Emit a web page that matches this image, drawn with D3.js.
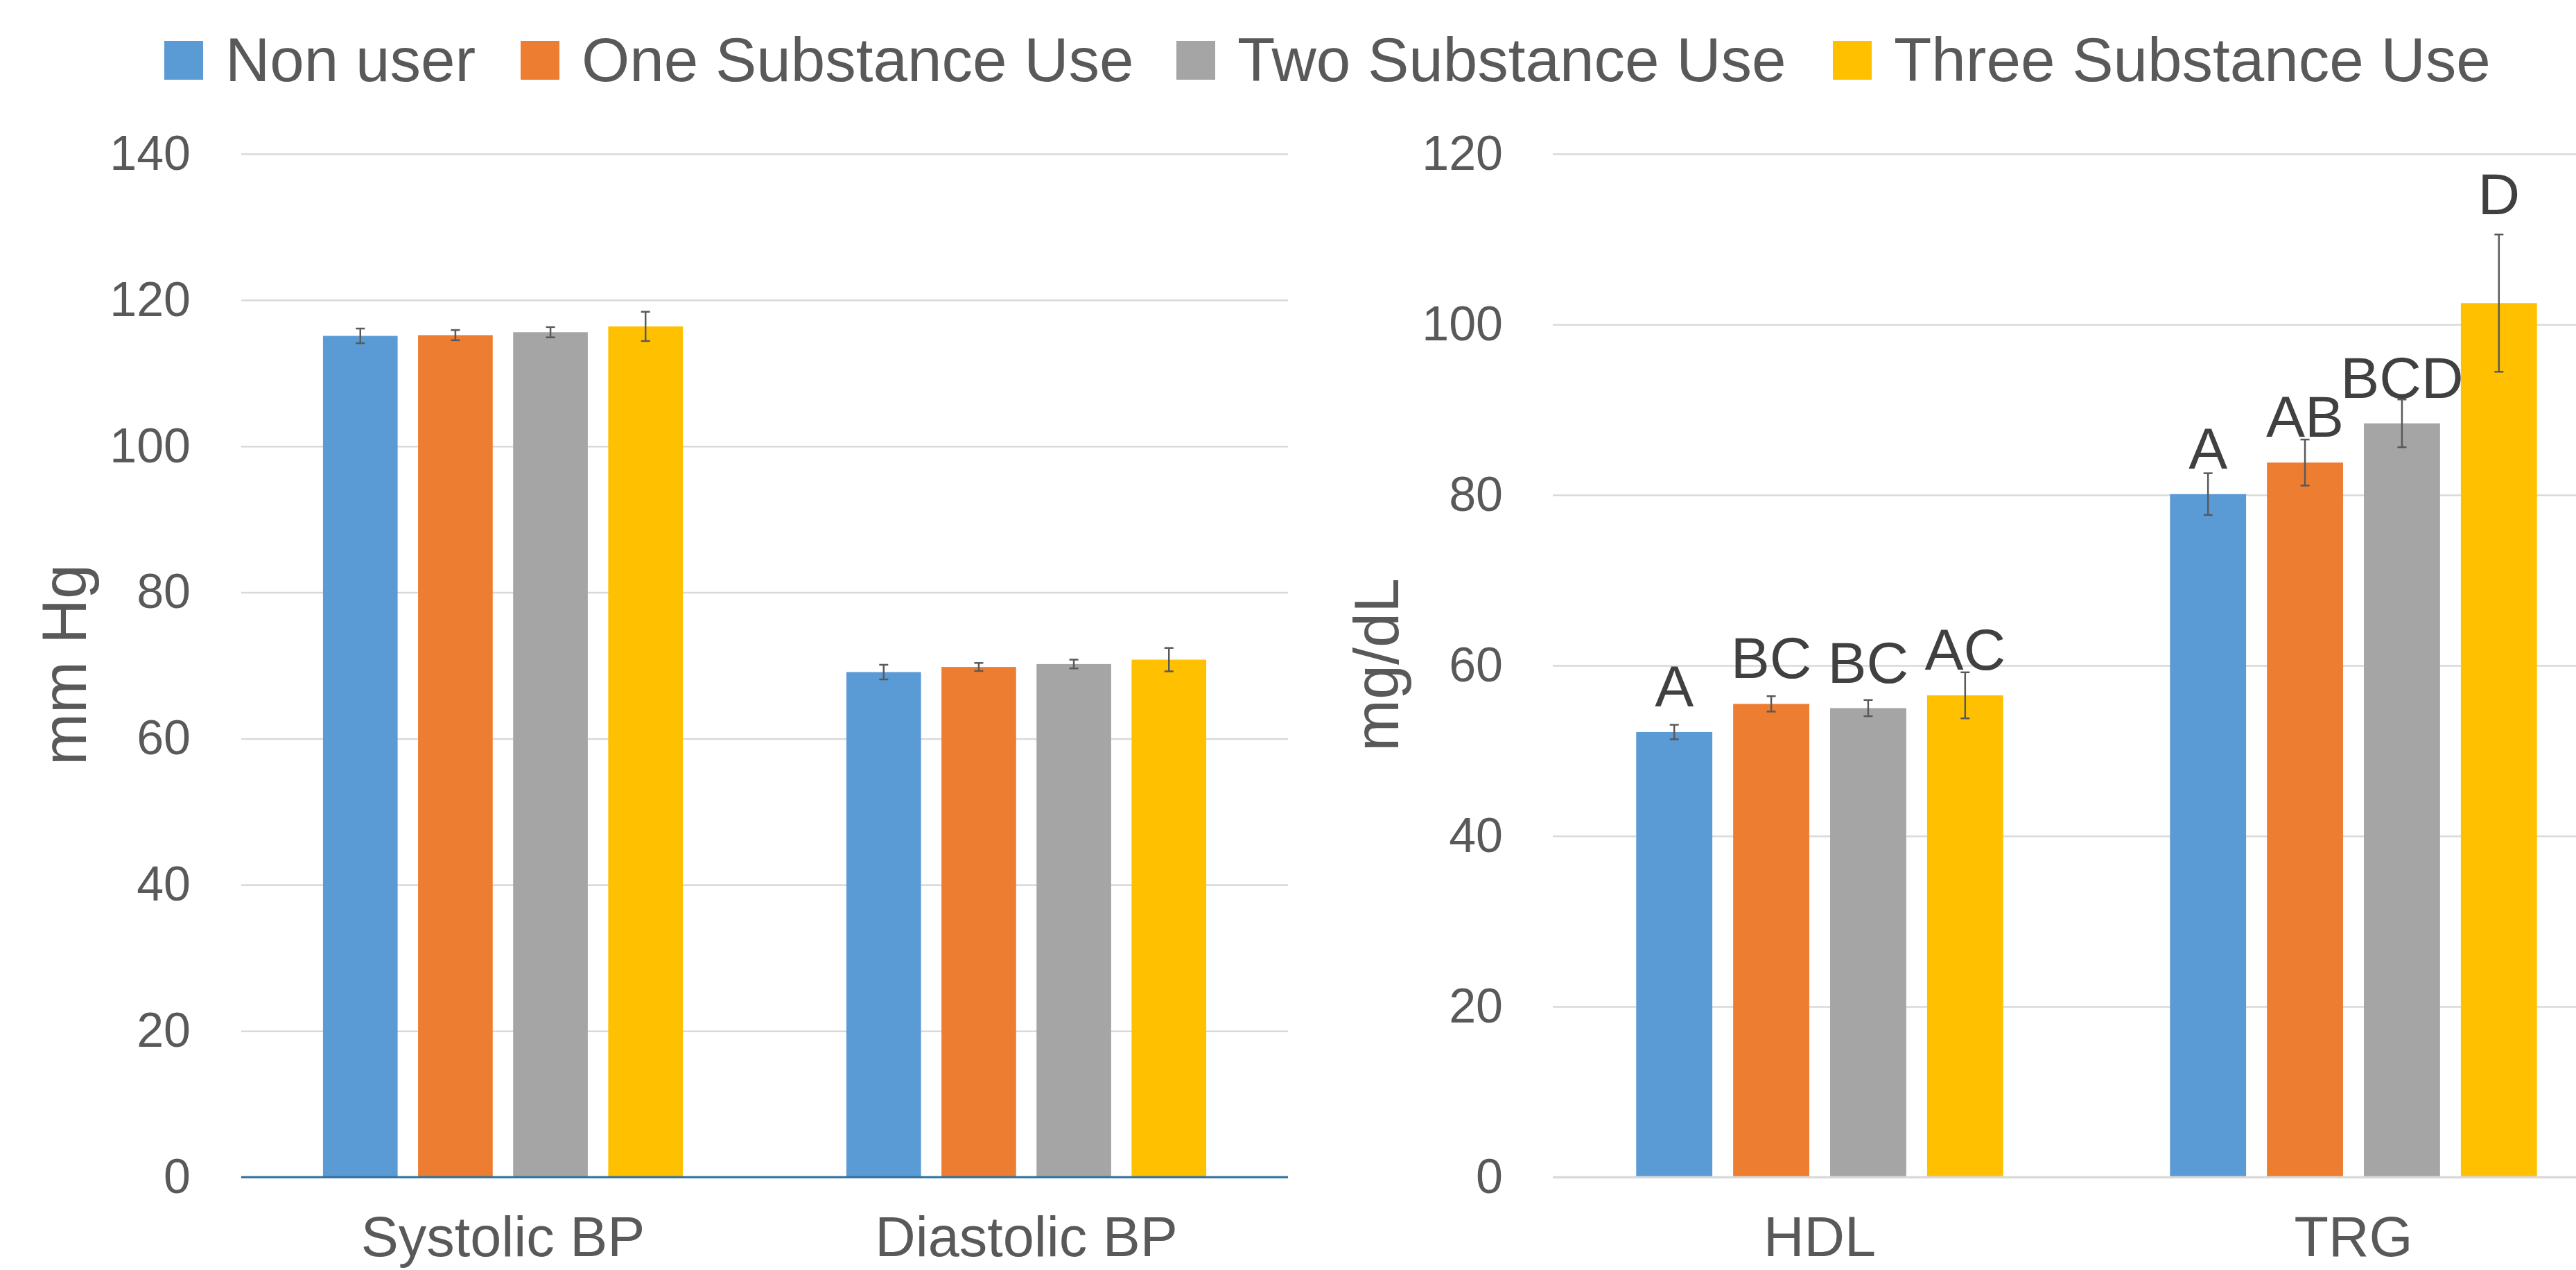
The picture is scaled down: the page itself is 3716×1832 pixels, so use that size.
<!DOCTYPE html>
<html>
<head>
<meta charset="utf-8">
<script src="https://cdn.jsdelivr.net/npm/d3@7"></script>
<style>
  body { margin: 0; background: #fff; }
  svg { display: block; font-family: "Liberation Sans", Arial, sans-serif; }
</style>
</head>
<body>
<div id="chart"></div>
<script>
// Series (legend)
var groups = ['Non user', 'One Substance Use', 'Two Substance Use', 'Three Substance Use'];
var groupColors = ['#5B9BD5', '#ED7D31', '#A5A5A5', '#FFC000'];

// Left panel: blood pressure
var bpCategories = ['Systolic BP', 'Diastolic BP'];
var bpMeans = [[115.1, 115.2, 115.6, 116.4], [69.1, 69.8, 70.2, 70.8]];
var bpErrors = [[1.0, 0.7, 0.7, 2.0], [1.0, 0.55, 0.6, 1.6]];
var bpTicks = [0, 20, 40, 60, 80, 100, 120, 140];

// Right panel: lipids
var lipidCategories = ['HDL', 'TRG'];
var lipidMeans = [[52.2, 55.5, 55.0, 56.5], [80.1, 83.8, 88.4, 102.5]];
var lipidErrors = [[0.85, 0.9, 0.95, 2.7], [2.45, 2.7, 2.8, 8.05]];
var lipidLetters = [['A', 'BC', 'BC', 'AC'], ['A', 'AB', 'BCD', 'D']];
var lipidTicks = [0, 20, 40, 60, 80, 100, 120];

//Width and height
var width = 3716;
var height = 1832;
var plotTop = 222;
var plotBottom = 1698;

var svg = d3.select('#chart')
  .append('svg')
  .attr('width', width)
  .attr('height', height);

//Legend
var legendX = [237, 751, 1697, 2644];
var legend = svg.selectAll('g.legend')
  .data(groups)
  .enter()
  .append('g')
  .attr('class', 'legend')
  .attr('transform', function (d, i) { return 'translate(' + legendX[i] + ',0)'; });

legend.append('rect')
  .attr('x', 0)
  .attr('y', 59)
  .attr('width', 56)
  .attr('height', 56)
  .style('fill', function (d, i) { return groupColors[i]; });

legend.append('text')
  .attr('x', 88)
  .attr('y', 117)
  .style('font-size', '89px')
  .style('fill', '#595959')
  .text(function (d) { return d; });

function drawPanel(opts) {
  var x0 = d3.scaleBand()
    .domain(opts.categories)
    .range([opts.left, opts.right])
    .padding(0);

  var x1 = d3.scaleBand()
    .domain(groups)
    .range([0, x0.bandwidth()])
    .paddingInner(0.215)
    .paddingOuter(0.86);

  var y = d3.scaleLinear()
    .domain([0, opts.max])
    .range([plotBottom, plotTop]);

  var clipRight = Math.min(opts.right, width);

  // gridlines + tick labels
  var yAxis = d3.axisLeft(y)
    .tickValues(opts.ticks)
    .tickSize(-(clipRight - opts.left))
    .tickPadding(opts.tickPad)
    .tickFormat(d3.format('d'));

  var g = svg.append('g')
    .attr('transform', 'translate(' + opts.left + ',0)')
    .call(yAxis);
  g.select('.domain').remove();
  g.selectAll('.tick line')
    .style('stroke', '#D9D9D9')
    .style('stroke-width', 2.5);
  g.selectAll('.tick text')
    .style('font-size', '70px')
    .style('font-family', '"Liberation Sans", Arial, sans-serif')
    .style('fill', '#595959');

  // bars
  var rows = [];
  opts.categories.forEach(function (c, ci) {
    groups.forEach(function (s, si) {
      rows.push({
        cat: c, series: si, key: s,
        value: opts.means[ci][si],
        err: opts.errors[ci][si],
        letter: opts.letters ? opts.letters[ci][si] : null
      });
    });
  });

  svg.append('g').selectAll('rect')
    .data(rows)
    .enter()
    .append('rect')
    .attr('x', function (d) { return x0(d.cat) + x1(d.key); })
    .attr('y', function (d) { return y(d.value); })
    .attr('width', x1.bandwidth())
    .attr('height', function (d) { return y(0) - y(d.value); })
    .style('fill', function (d) { return groupColors[d.series]; });

  // zero axis line
  svg.append('line')
    .attr('x1', opts.left)
    .attr('x2', clipRight)
    .attr('y1', y(0))
    .attr('y2', y(0))
    .style('stroke', opts.axisColor)
    .style('stroke-width', 3);

  // error bars
  var eb = svg.append('g').selectAll('g')
    .data(rows)
    .enter()
    .append('g')
    .attr('transform', function (d) {
      return 'translate(' + (x0(d.cat) + x1(d.key) + x1.bandwidth() / 2) + ',0)';
    })
    .style('stroke', '#595959')
    .style('stroke-width', 2.5);

  eb.append('line')
    .attr('y1', function (d) { return y(d.value + d.err); })
    .attr('y2', function (d) { return y(d.value - d.err); });
  eb.append('line')
    .attr('x1', -6.5).attr('x2', 6.5)
    .attr('y1', function (d) { return y(d.value + d.err); })
    .attr('y2', function (d) { return y(d.value + d.err); });
  eb.append('line')
    .attr('x1', -6.5).attr('x2', 6.5)
    .attr('y1', function (d) { return y(d.value - d.err); })
    .attr('y2', function (d) { return y(d.value - d.err); });

  // significance letters
  if (opts.letters) {
    svg.append('g').selectAll('text')
      .data(rows)
      .enter()
      .append('text')
      .attr('x', function (d) { return x0(d.cat) + x1(d.key) + x1.bandwidth() / 2; })
      .attr('y', function (d) {
        var base = y(d.value) - 37;
        var errTop = y(d.value + d.err);
        return errTop < base ? errTop - 29 : base;
      })
      .style('text-anchor', 'middle')
      .style('font-size', '84px')
      .style('fill', '#404040')
      .text(function (d) { return d.letter; });
  }

  // category labels
  svg.append('g').selectAll('text')
    .data(opts.categories)
    .enter()
    .append('text')
    .attr('x', function (d) { return x0(d) + x0.bandwidth() / 2; })
    .attr('y', 1812)
    .style('text-anchor', 'middle')
    .style('font-size', '81px')
    .style('fill', '#595959')
    .text(function (d) { return d; });

  // y axis title
  svg.append('text')
    .attr('transform', 'translate(' + opts.titleX + ',' + 959 + ') rotate(-90)')
    .style('text-anchor', 'middle')
    .style('font-size', '90px')
    .style('fill', '#595959')
    .text(opts.title);
}

drawPanel({
  categories: bpCategories, means: bpMeans, errors: bpErrors, letters: null,
  ticks: bpTicks, max: 140, left: 348, right: 1858, tickPad: 73,
  axisColor: '#2F72A0', title: 'mm Hg', titleX: 124
});

drawPanel({
  categories: lipidCategories, means: lipidMeans, errors: lipidErrors, letters: lipidLetters,
  ticks: lipidTicks, max: 120, left: 2240, right: 3780, tickPad: 72,
  axisColor: '#D9D9D9', title: 'mg/dL', titleX: 2017
});
</script>
</body>
</html>
